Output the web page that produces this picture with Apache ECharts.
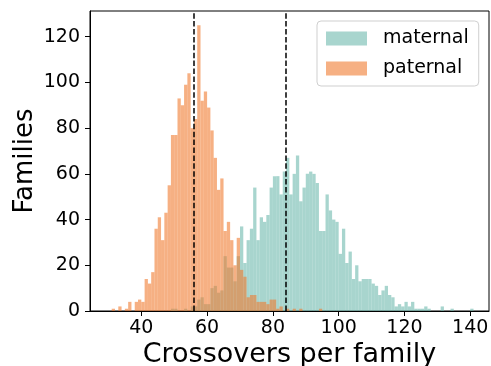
<!DOCTYPE html>
<html>
<head>
<meta charset="utf-8">
<script type="text/javascript" src="https://cdn.jsdelivr.net/npm/echarts@6/dist/echarts.min.js"></script>
<style>
  html, body { margin: 0; padding: 0; background: #fff; }
  #main { width: 491px; height: 366px; }
</style>
</head>
<body>
<div id="main"></div>
<script type="text/javascript">
// histogram counts, one bin per integer value, starting at the given bin
var maternalStart = 49;
var maternalCounts = [1, 1, 0, 0, 1, 0, 2, 2, 5, 6, 3, 3, 10, 11, 8, 9, 24, 19, 19, 13,
  24, 37, 21, 31, 36, 54, 31, 41, 39, 42, 54, 59, 59, 51, 61, 67, 51, 60, 68, 48,
  54, 60, 61, 60, 56, 35, 35, 51, 44, 40, 39, 25, 36, 21, 26, 14, 20, 13, 14, 14,
  14, 12, 11, 7, 9, 11, 7, 6, 2, 3, 2, 4, 2, 4, 1, 1, 1, 2, 1, 0,
  0, 0, 2, 0, 0, 1, 0, 0, 0, 0, 0, 1];
var paternalStart = 31;
var paternalCounts = [1, 0, 2, 0, 1, 4, 0, 4, 5, 4, 14, 12, 17, 36, 41, 31, 43, 55, 77, 77,
  93, 90, 99, 104, 80, 84, 125, 92, 96, 89, 79, 67, 53, 58, 35, 39, 31, 20, 32, 18,
  15, 6, 7, 7, 4, 4, 4, 3, 5, 5, 1, 2, 0, 1, 0, 1, 0, 1, 0, 0, 0, 0, 0, 1];
// dashed reference lines (means)
var meanLines = [55.9, 84];
var xTicks = [40, 60, 80, 100, 120, 140];
var yTicks = [0, 20, 40, 60, 80, 100, 120];

function toBars(start, counts) {
  return counts.map(function (c, i) { return [start + i + 0.5, c]; });
}

var font = 'DejaVu Sans';
var myChart = echarts.init(document.getElementById('main'));
var option = {
  animation: false,
  textStyle: { fontFamily: font },
  grid: {
    left: 90, right: 2, top: 11, bottom: 55,
    outerBoundsMode: 'none', containLabel: false,
    show: true, borderColor: '#000', borderWidth: 1
  },
  legend: {
    data: ['maternal', 'paternal'],
    orient: 'vertical',
    left: 317, top: 21,
    icon: 'rect',
    itemWidth: 41, itemHeight: 14, itemGap: 11,
    padding: [8, 10, 8, 9],
    borderColor: '#cfcfcf', borderWidth: 1, borderRadius: 4,
    backgroundColor: '#fff',
    itemStyle: { borderWidth: 0 },
    textStyle: { fontSize: 19, color: '#000', fontFamily: font, padding: [0, 0, 0, 11] }
  },
  xAxis: {
    type: 'value', min: 24.4, max: 145.7,
    axisLine: { show: true, onZero: false, lineStyle: { color: '#000', width: 1 } },
    axisTick: { show: true, length: 5, customValues: xTicks, lineStyle: { color: '#000' } },
    axisLabel: { customValues: xTicks, fontSize: 19, color: '#000', margin: 8 },
    splitLine: { show: false },
    name: 'Crossovers per family', nameLocation: 'middle', nameGap: 30,
    nameMoveOverlap: false,
    nameTextStyle: { fontSize: 27, color: '#000' }
  },
  yAxis: {
    type: 'value', min: 0, max: 131.25,
    axisLine: { show: true, lineStyle: { color: '#000', width: 1 } },
    axisTick: { show: true, length: 5, customValues: yTicks, lineStyle: { color: '#000' } },
    axisLabel: { customValues: yTicks, fontSize: 19, color: '#000', margin: 10 },
    splitLine: { show: false },
    name: 'Families', nameLocation: 'middle', nameGap: 52,
    nameMoveOverlap: false,
    nameTextStyle: { fontSize: 26, color: '#000' }
  },
  series: [
    {
      name: 'maternal', type: 'bar',
      barWidth: '100%', barGap: '-100%',
      itemStyle: { color: 'rgb(110,185,173)', opacity: 0.6, borderWidth: 0 },
      data: toBars(maternalStart, maternalCounts)
    },
    {
      name: 'paternal', type: 'bar',
      barWidth: '100%', barGap: '-100%',
      itemStyle: { color: 'rgb(240,123,48)', opacity: 0.6, borderWidth: 0 },
      data: toBars(paternalStart, paternalCounts),
      markLine: {
        silent: true, symbol: 'none',
        label: { show: false },
        lineStyle: { color: '#000', width: 1.5, type: [5.5, 2.4], opacity: 1 },
        data: meanLines.map(function (v) { return { xAxis: v }; })
      }
    }
  ]
};
myChart.setOption(option);
</script>
</body>
</html>
